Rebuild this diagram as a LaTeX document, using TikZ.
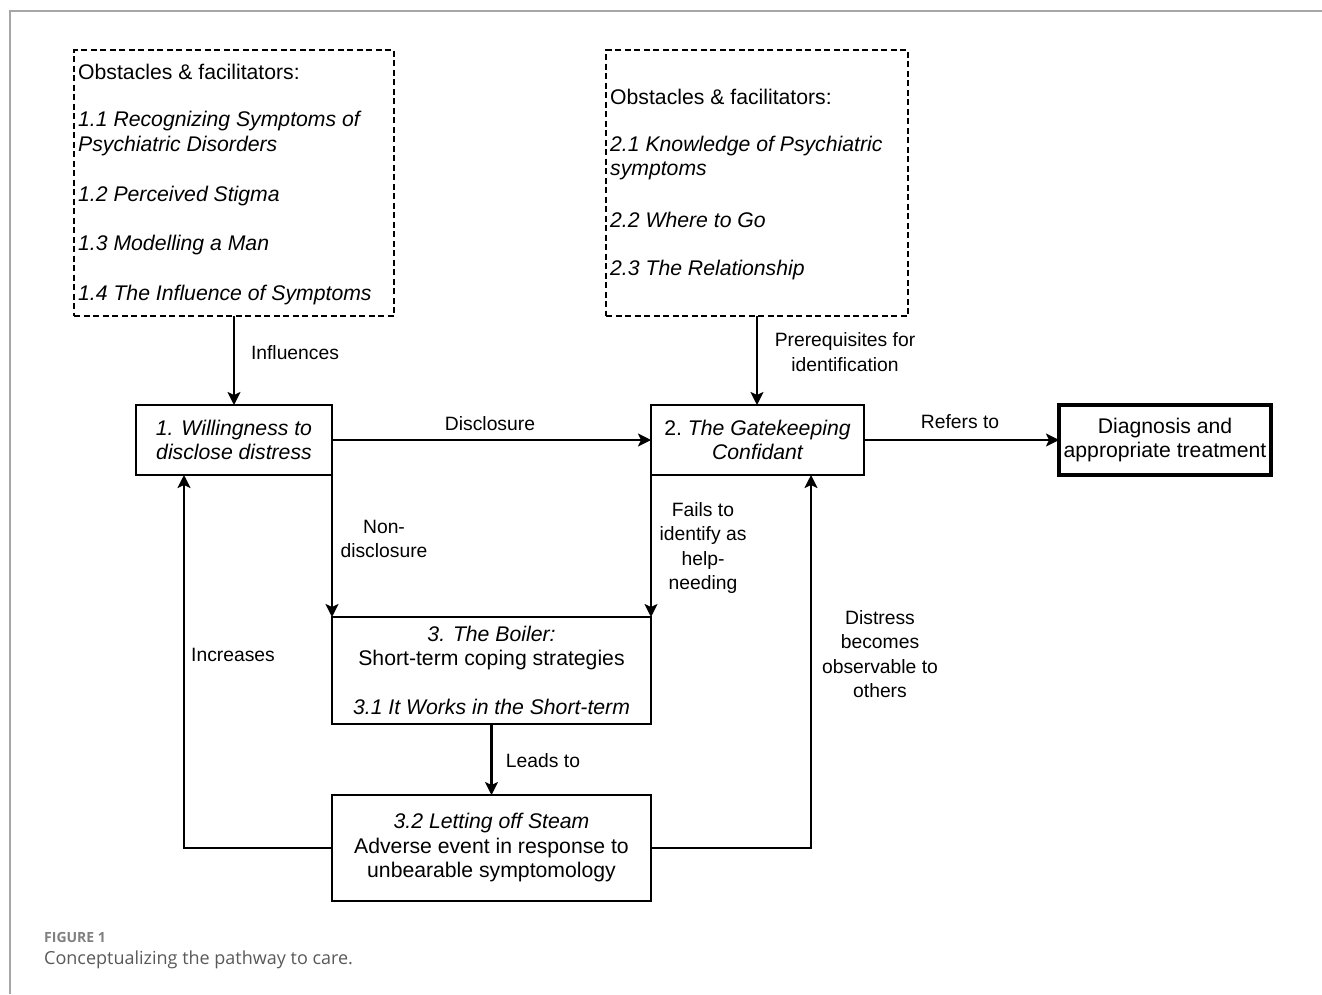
\documentclass[tikz,border=0pt]{standalone}
\usepackage{fontspec}
\setmainfont{Liberation Sans}
\newfontfamily\capfont{Open Sans}
\usetikzlibrary{arrows.meta}
\begin{document}
\begin{tikzpicture}[x=1pt,y=-1pt,
  font=\fontsize{21.2}{24.5}\selectfont,
  box/.style={draw,line width=2.2pt,rectangle,inner sep=0pt,outer sep=0pt,align=center},
  dbox/.style={draw,line width=1.8pt,dash pattern=on 6pt off 3.5pt,inner sep=0pt,outer sep=0pt},
  arr/.style={line width=2.2pt,-{Stealth[length=13pt,width=13pt,inset=3pt]}},
  lbl/.style={align=center,inner sep=0pt,font=\fontsize{19.3}{24.5}\selectfont},
  txt/.style={anchor=west,inner sep=0pt},
]
\useasboundingbox (0,0) rectangle (1322,994);
\draw[black!35, line width=1.3pt] (10,994) -- (10,11) -- (1322,11);

% dashed boxes
\node[dbox, minimum width=320, minimum height=266] (boxA) at (234,183) {};
\node[dbox, minimum width=302, minimum height=266] (boxB) at (757,183) {};

\node[txt] (a0) at (78,72) {Obstacles \& facilitators:};
\node[txt] (a1) at (78,121) {\itshape 1.1 Recognizing Symptoms of};
\node[txt] (a1b) at (78,146) {\itshape Psychiatric Disorders};
\node[txt] (a2) at (78,196) {\itshape 1.2 Perceived Stigma};
\node[txt] (a3) at (78,245) {\itshape 1.3 Modelling a Man};
\node[txt] (a4) at (78,295) {\itshape 1.4 The Influence of Symptoms};

\node[txt] (b0) at (610,97) {Obstacles \& facilitators:};
\node[txt] (b1) at (610,146) {\itshape 2.1 Knowledge of Psychiatric};
\node[txt] (b1b) at (610,171) {\itshape symptoms};
\node[txt] (b2) at (610,220) {\itshape 2.2 Where to Go};
\node[txt] (b3) at (610,270) {\itshape 2.3 The Relationship};

% main nodes
\node[box, minimum width=196, minimum height=70] (n1) at (234,440)
  {\itshape 1. Willingness to\\\itshape disclose distress};
\node[box, minimum width=213, minimum height=70] (n2) at (757.5,440)
  {2.\ \itshape The Gatekeeping\\\itshape Confidant};
\node[box, line width=3.8pt, minimum width=212, minimum height=70] (dx) at (1165,440)
  {Diagnosis and\\appropriate treatment};
\node[box, minimum width=319, minimum height=107] (boil) at (491.5,670.5)
  {\itshape 3. The Boiler:\\Short-term coping strategies\\[24.5pt]\itshape 3.1 It Works in the Short-term};
\node[box, minimum width=319, minimum height=106] (steam) at (491.5,848)
  {\itshape 3.2 Letting off Steam\\Adverse event in response to\\unbearable symptomology};

% connectors
\draw[arr] (boxA.south) -- (boxA.south |- n1.north);
\draw[arr] (boxB.south) -- (boxB.south |- n2.north);
\draw[arr] (n1.east) -- (n2.west);
\draw[arr] (n2.east) -- (dx.west);
\draw[arr] (n1.south east) -- (n1.south east |- boil.north);
\draw[arr] (n2.south west) -- (n2.south west |- boil.north);
\draw[arr] (boil.south) -- (steam.north);
\draw[arr] (steam.west) -| ([xshift=-50pt]n1.south);
\draw[arr] (steam.east) -| ([xshift=53.5pt]n2.south);

% labels
\node[lbl] (l1) at (295,353) {Influences};
\node[lbl] (l2) at (845,352) {Prerequisites for\\identification};
\node[lbl] (l3) at (490,424) {Disclosure};
\node[lbl] (l4) at (960,422) {Refers to};
\node[lbl] (l5) at (384,539) {Non-\\disclosure};
\node[lbl] (l6) at (703,548) {Fails to\\identify as\\help-\\needing};
\node[lbl] (l7) at (543,761) {Leads to};
\node[lbl] (l8) at (233,655) {Increases};
\node[lbl] (l9) at (880,654) {Distress\\becomes\\observable to\\others};

% caption
\node[txt, font=\capfont\bfseries\fontsize{14}{16}\selectfont, text=black!50] (cap1) at (44,937) {FIGURE 1};
\node[txt, font=\capfont\fontsize{18}{20}\selectfont, text=black!65] (cap2) at (44,960) {Conceptualizing the pathway to care.};
\end{tikzpicture}
\end{document}
